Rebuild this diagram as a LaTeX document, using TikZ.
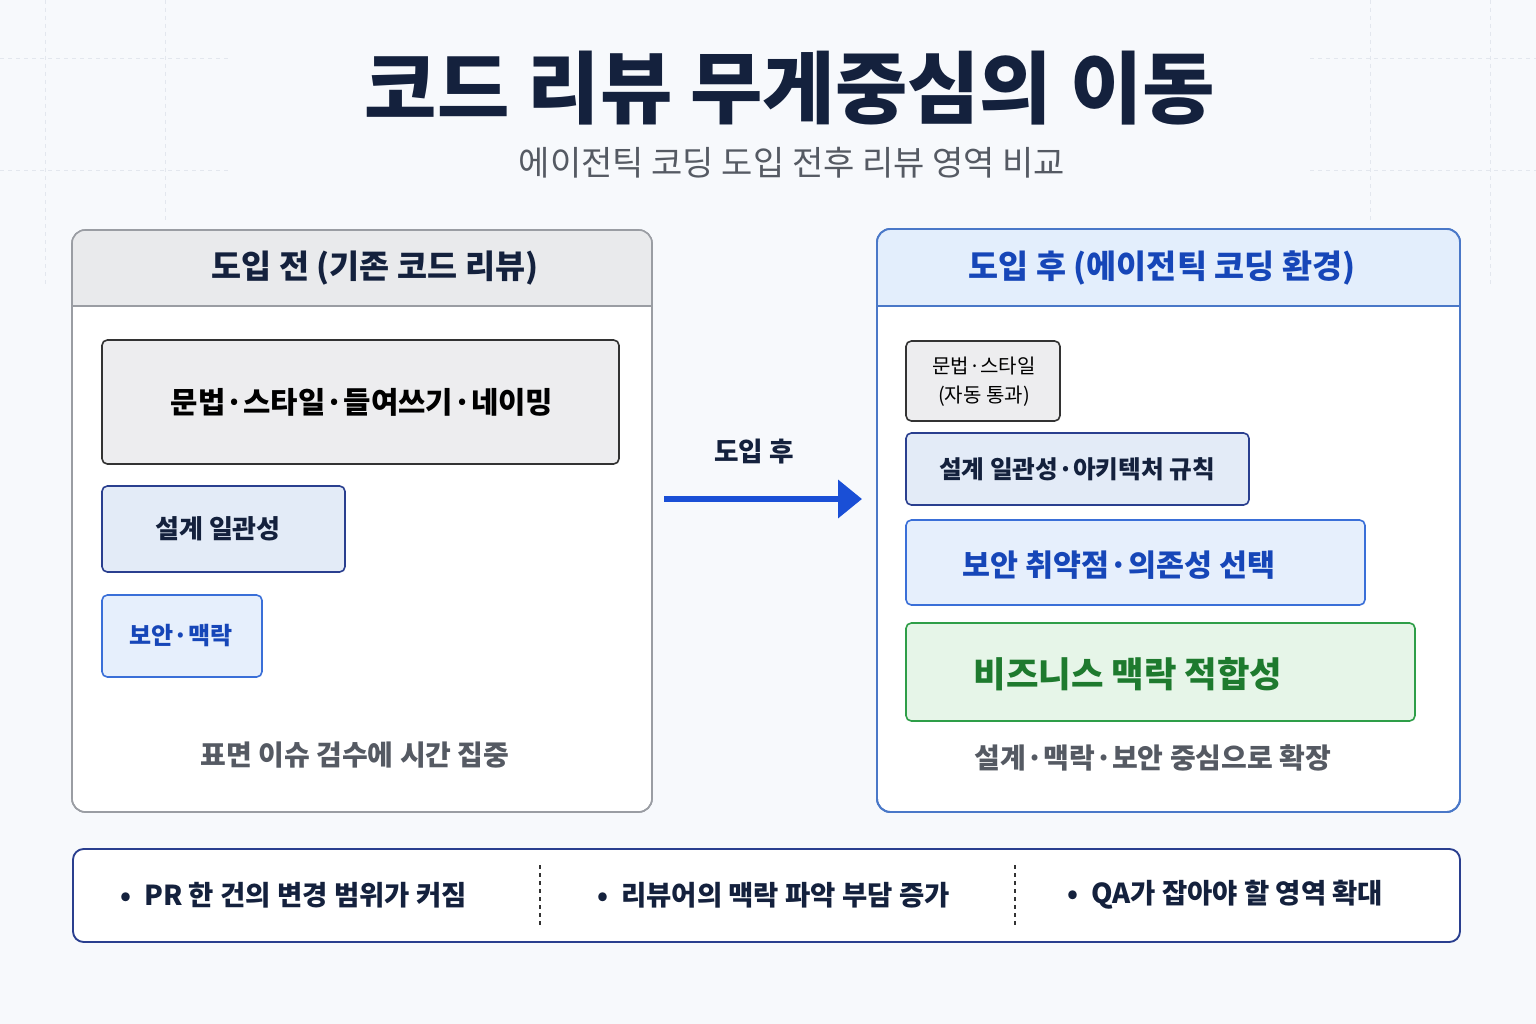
\documentclass[tikz,border=0pt]{standalone}
\usepackage{fontspec}
\usetikzlibrary{arrows.meta}
\setmainfont{Noto Sans CJK KR}
\begin{document}
\begin{tikzpicture}[x=0.75pt,y=-0.75pt,
  navy/.style={text=c-navy},
  boxa/.style={draw=c-dark,line width=1.2pt,fill=c-gray,rounded corners=4pt},
  boxb/.style={draw=c-navy2,line width=1.2pt,fill=c-lblue,rounded corners=4pt},
  boxc/.style={draw=c-blue2,line width=1.2pt,fill=c-lblue2,rounded corners=4pt},
  boxg/.style={draw=c-green,line width=1.2pt,fill=c-lgreen,rounded corners=4pt},
  grid/.style={draw=c-grid,dashed,line width=0.6pt}]
\definecolor{c-bg}{HTML}{F7F9FC}
\definecolor{c-navy}{HTML}{14213D}
\definecolor{c-navy2}{HTML}{2A3F8F}
\definecolor{c-dark}{HTML}{333333}
\definecolor{c-gray}{HTML}{EDEDEF}
\definecolor{c-lblue}{HTML}{E3EBF7}
\definecolor{c-lblue2}{HTML}{E6EFFC}
\definecolor{c-blue}{HTML}{1646B8}
\definecolor{c-blue2}{HTML}{3A6FD8}
\definecolor{c-arrow}{HTML}{1A4FD6}
\definecolor{c-green}{HTML}{2E9E48}
\definecolor{c-lgreen}{HTML}{E6F5E8}
\definecolor{c-tgreen}{HTML}{1E7A2E}
\definecolor{c-grid}{HTML}{E3E7EE}
\definecolor{c-pgray}{HTML}{9A9DA3}
\definecolor{c-hgray}{HTML}{E9EAEC}
\definecolor{c-rhead}{HTML}{E3EEFC}
\definecolor{c-rborder}{HTML}{4A78C8}
\definecolor{c-cap}{HTML}{555A63}
\fill[c-bg] (0,0) rectangle (1536,1024);
\useasboundingbox (0,0) rectangle (1536,1024);
% faint grid
\draw[grid] (0,58) -- (230,58); \draw[grid] (1310,58) -- (1536,58);
\draw[grid] (0,170) -- (230,170); \draw[grid] (1310,170) -- (1536,170);
\draw[grid] (45,0) -- (45,285); \draw[grid] (165,0) -- (165,220);
\draw[grid] (1370,0) -- (1370,220); \draw[grid] (1490,0) -- (1490,285);
% title
\node[navy,font=\fontsize{59}{66}\selectfont\bfseries] (title) at (790,88) {코드 리뷰 무게중심의 이동};
\node[text=c-cap,font=\fontsize{25.5}{30}\selectfont] (sub) at (792,163) {에이전틱 코딩 도입 전후 리뷰 영역 비교};
% left panel
\draw[draw=c-pgray,line width=1.2pt,fill=white,rounded corners=10pt] (72,230) rectangle (652,812);
\begin{scope}
\clip[rounded corners=10pt] (72,230) rectangle (652,812);
\fill[c-hgray] (72,230) rectangle (652,306);
\end{scope}
\draw[c-pgray,line width=1pt] (72,306) -- (652,306);
\draw[draw=c-pgray,line width=1.2pt,rounded corners=10pt] (72,230) rectangle (652,812);
\node[navy,font=\fontsize{24.5}{28}\selectfont\bfseries] (lh) at (375,268) {도입 전 (기존 코드 리뷰)};
\draw[boxa] (102,340) rectangle (619,464);
\node[text=black,font=\fontsize{22.3}{26}\selectfont\bfseries] (l1) at (362,402) {문법·스타일·들여쓰기·네이밍};
\draw[boxb] (102,486) rectangle (345,572);
\node[navy,font=\fontsize{19.5}{22}\selectfont\bfseries] (l2) at (218,529) {설계 일관성};
\draw[boxc] (102,595) rectangle (262,677);
\node[text=c-blue,font=\fontsize{18}{22}\selectfont\bfseries] (l3) at (181,636) {보안·맥락};
\node[text=c-cap,font=\fontsize{21}{24}\selectfont\bfseries] (lc) at (355,755) {표면 이슈 검수에 시간 집중};
% arrow
\coordinate (a1) at (664,499); \coordinate (a2) at (862,499);
\draw[c-arrow,line width=5pt,-{Triangle[length=18pt,width=28pt]}] (a1) -- (a2);
\node[navy,font=\fontsize{20}{24}\selectfont\bfseries] (al) at (754,452) {도입 후};
% right panel
\draw[draw=c-rborder,line width=1.4pt,fill=white,rounded corners=10pt] (877,229) rectangle (1460,812);
\begin{scope}
\clip[rounded corners=10pt] (877,229) rectangle (1460,812);
\fill[c-rhead] (877,229) rectangle (1460,306);
\end{scope}
\draw[c-rborder,line width=1pt] (877,306) -- (1460,306);
\draw[draw=c-rborder,line width=1.4pt,rounded corners=10pt] (877,229) rectangle (1460,812);
\node[text=c-blue,font=\fontsize{24.5}{28}\selectfont\bfseries] (rh) at (1162,268) {도입 후 (에이전틱 코딩 환경)};
\draw[boxa] (906,341) rectangle (1060,421);
\node[text=black,font=\fontsize{15}{22}\selectfont,align=center] (r1) at (984,382) {문법·스타일\\(자동 통과)};
\draw[boxb] (906,433) rectangle (1249,505);
\node[navy,font=\fontsize{18.5}{22}\selectfont\bfseries] (r2) at (1077,469) {설계 일관성·아키텍처 규칙};
\draw[boxc] (906,520) rectangle (1365,605);
\node[text=c-blue,font=\fontsize{22.8}{26}\selectfont\bfseries] (r3) at (1119,565) {보안 취약점·의존성 선택};
\draw[boxg] (906,623) rectangle (1415,721);
\node[text=c-tgreen,font=\fontsize{26.5}{30}\selectfont\bfseries] (r4) at (1128,674) {비즈니스 맥락 적합성};
\node[text=c-cap,font=\fontsize{21}{24}\selectfont\bfseries] (rc) at (1153,758) {설계·맥락·보안 중심으로 확장};
% bottom bar
\draw[draw=c-navy2,line width=1.4pt,fill=white,rounded corners=8pt] (73,849) rectangle (1460,942);
\draw[c-dark,dashed,line width=0.8pt] (540,865) -- (540,925);
\draw[c-dark,dashed,line width=0.8pt] (1015,865) -- (1015,925);
\node[navy,anchor=west,font=\fontsize{20.6}{24}\selectfont\bfseries] (b1) at (116,895) {•\ \ PR 한 건의 변경 범위가 커짐};
\node[navy,anchor=west,font=\fontsize{20.6}{24}\selectfont\bfseries] (b2) at (593,895) {•\ \ 리뷰어의 맥락 파악 부담 증가};
\node[navy,anchor=west,font=\fontsize{20.6}{24}\selectfont\bfseries] (b3) at (1063,895) {•\ \ QA가 잡아야 할 영역 확대};
\end{tikzpicture}
\end{document}
